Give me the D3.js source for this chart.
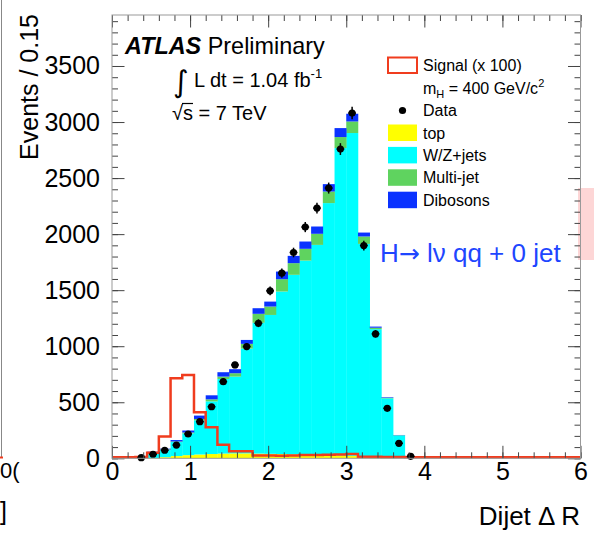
<!DOCTYPE html>
<html>
<head>
<meta charset="utf-8">
<script src="https://cdnjs.cloudflare.com/ajax/libs/d3/7.8.5/d3.min.js"></script>
<style>
  body { margin: 0; background: #fff; }
  svg { display: block; font-family: "Liberation Sans", Arial, sans-serif; }
</style>
</head>
<body>
<div id="chart"></div>
<script>
var width = 594;
var height = 534;

// lower edges of the filled bins (bin width 0.15)
var binLo = [0.30, 0.45, 0.60, 0.75, 0.90, 1.05, 1.20, 1.35, 1.50, 1.65, 1.80, 1.95,
             2.10, 2.25, 2.40, 2.55, 2.70, 2.85, 3.00, 3.15, 3.30, 3.45, 3.60, 3.75];
var binW = 0.15;

var dataVals = [6, 36, 72, 118, 217, 327, 460, 684, 833, 997, 1205, 1494,
                1652, 1836, 2063, 2232, 2411, 2759, 3080, 1898, 1110, 446, 134, 18];
var topVals  = [0, 3, 10, 20, 28, 34, 38, 42, 44, 44, 42, 40,
                38, 35, 33, 30, 28, 25, 22, 14, 8, 4, 2, 0];
var wzVals   = [4, 48, 65, 125, 194, 305, 470, 665, 685, 935, 1167, 1239,
                1450, 1602, 1731, 1874, 2249, 2743, 2880, 1899, 1144, 531, 202, 4];
var mjVals   = [0, 4, 5, 5, 8, 12, 18, 22, 30, 42, 80, 75,
                110, 104, 105, 99, 103, 98, 103, 66, 13, 5, 2, 0];
var dbVals   = [1, 4, 6, 13, 18, 30, 36, 39, 36, 35, 50, 44,
                68, 65, 65, 65, 66, 80, 69, 35, 10, 5, 2, 1];
var sigVals  = [3, 40, 185, 705, 735, 402, 268, 112, 55, 55, 15, 15,
                14, 16, 20, 20, 22, 26, 29, 5, 4, 3, 2, 1];

var xMajor = [0, 1, 2, 3, 4, 5, 6];
var yMajor = [0, 500, 1000, 1500, 2000, 2500, 3000, 3500];

var keys = ["top", "wz", "mj", "db"];
var colors = { top: "#ffff00", wz: "#00ffff", mj: "#5fd35f", db: "#0a32ff" };
var legendLabels = ["top", "W/Z+jets", "Multi-jet", "Dibosons"];

var svg = d3.select("#chart").append("svg")
  .attr("width", width)
  .attr("height", height);

svg.append("rect").attr("width", width).attr("height", height).attr("fill", "#fff");

// pink patch and neighbouring plot remnants at the edges
svg.append("rect").attr("x", 578).attr("y", 188).attr("width", 16).attr("height", 72).attr("fill", "#fdd6d6");
svg.append("line").attr("x1", 1.5).attr("x2", 1.5).attr("y1", 0).attr("y2", 458)
  .attr("stroke", "#888").attr("stroke-width", 1);
svg.append("line").attr("x1", 0).attr("x2", 3).attr("y1", 457.5).attr("y2", 457.5)
  .attr("stroke", "#f03c1e").attr("stroke-width", 2);
svg.append("text").attr("x", 0).attr("y", 478).attr("font-size", 22).text("0(");
svg.append("text").attr("x", 0).attr("y", 520).attr("font-size", 25).text("]");

var x = d3.scaleLinear().domain([0, 6]).range([112, 580.5]);
var y = d3.scaleLinear().domain([0, 3955]).range([458.3, 15]);

// stacked backgrounds
var rows = binLo.map(function (b, i) {
  return { lo: b, top: topVals[i], wz: wzVals[i], mj: mjVals[i], db: dbVals[i] };
});
var stacked = d3.stack().keys(keys)(rows);

svg.append("g").selectAll("g")
  .data(stacked)
  .enter()
  .append("g")
  .attr("fill", function (d) { return colors[d.key]; })
  .selectAll("rect")
  .data(function (d) { return d; })
  .enter()
  .append("rect")
  .attr("x", function (d) { return x(d.data.lo); })
  .attr("width", function (d) { return x(d.data.lo + binW) - x(d.data.lo) + 0.3; })
  .attr("y", function (d) { return y(d[1]); })
  .attr("height", function (d) { return y(d[0]) - y(d[1]); });

// signal x 100 as a step line
var sigPts = [[0, 0]];
binLo.forEach(function (b, i) { sigPts.push([b, sigVals[i]]); });
sigPts.push([binLo[binLo.length - 1] + binW, 0]);
sigPts.push([6, 0]);

svg.append("path")
  .datum(sigPts)
  .attr("fill", "none")
  .attr("stroke", "#f03c1e")
  .attr("stroke-width", 2.5)
  .attr("d", d3.line()
    .x(function (d) { return x(d[0]); })
    .y(function (d) { return y(d[1]) - 1; })
    .curve(d3.curveStepAfter));

// data points with sqrt(N) errors
var xErr = 0.05;
var pts = svg.append("g").selectAll("g")
  .data(binLo.map(function (b, i) { return { c: b + binW / 2, v: dataVals[i] }; }))
  .enter()
  .append("g");
pts.append("line")
  .attr("x1", function (d) { return x(d.c); })
  .attr("x2", function (d) { return x(d.c); })
  .attr("y1", function (d) { return y(d.v + Math.sqrt(d.v)); })
  .attr("y2", function (d) { return y(Math.max(0, d.v - Math.sqrt(d.v))); })
  .attr("stroke", "#000").attr("stroke-width", 1.5);
pts.append("line")
  .attr("x1", function (d) { return x(d.c - xErr); })
  .attr("x2", function (d) { return x(d.c + xErr); })
  .attr("y1", function (d) { return y(d.v); })
  .attr("y2", function (d) { return y(d.v); })
  .attr("stroke", "#000").attr("stroke-width", 1.5);
pts.append("circle")
  .attr("cx", function (d) { return x(d.c); })
  .attr("cy", function (d) { return y(d.v); })
  .attr("r", 3.6)
  .attr("fill", "#000");

// axes, ROOT style ticks inside the frame
function styleAxis(g) {
  g.select(".domain").remove();
  g.selectAll(".tick line").attr("stroke", "#444");
  g.selectAll("text").attr("font-size", 25).attr("fill", "#000")
    .attr("font-family", "Liberation Sans, Arial, sans-serif");
}
var xMinor = d3.range(0, 6.001, 0.2);
var yMinor = d3.range(0, 3955, 100);

svg.append("g").attr("transform", "translate(0,458.3)")
  .call(d3.axisBottom(x).tickValues(xMinor).tickSize(-6).tickFormat(""))
  .call(styleAxis);
svg.append("g").attr("transform", "translate(0,458.3)")
  .call(d3.axisBottom(x).tickValues(xMajor).tickSize(-12.5).tickPadding(4).tickFormat(d3.format("d")))
  .call(styleAxis);
svg.append("g").attr("transform", "translate(0,15)")
  .call(d3.axisTop(x).tickValues(xMinor).tickSize(-6).tickFormat(""))
  .call(styleAxis);
svg.append("g").attr("transform", "translate(0,15)")
  .call(d3.axisTop(x).tickValues(xMajor).tickSize(-12.5).tickFormat(""))
  .call(styleAxis);

svg.append("g").attr("transform", "translate(112,0)")
  .call(d3.axisLeft(y).tickValues(yMinor).tickSize(-6).tickFormat(""))
  .call(styleAxis);
svg.append("g").attr("transform", "translate(112,0)")
  .call(d3.axisLeft(y).tickValues(yMajor).tickSize(-12.5).tickPadding(12).tickFormat(d3.format("d")))
  .call(styleAxis);
svg.append("g").attr("transform", "translate(580.5,0)")
  .call(d3.axisRight(y).tickValues(yMinor).tickSize(-6).tickFormat(""))
  .call(styleAxis);
svg.append("g").attr("transform", "translate(580.5,0)")
  .call(d3.axisRight(y).tickValues(yMajor).tickSize(-12.5).tickFormat(""))
  .call(styleAxis);

svg.append("rect")
  .attr("x", 112).attr("y", 15)
  .attr("width", 580.5 - 112).attr("height", 458.3 - 15)
  .attr("fill", "none").attr("stroke", "#999").attr("stroke-width", 1);

// axis titles
svg.append("text")
  .attr("transform", "translate(38,14) rotate(-90)")
  .attr("text-anchor", "end")
  .attr("font-size", 25)
  .text("Events / 0.15");
svg.append("text")
  .attr("x", 580).attr("y", 525)
  .attr("text-anchor", "end")
  .attr("font-size", 26)
  .text("Dijet \u0394 R");

// ATLAS label
var atlas = svg.append("text").attr("x", 125).attr("y", 54).attr("font-size", 23.4);
atlas.append("tspan").attr("font-weight", "bold").attr("font-style", "italic").text("ATLAS");
atlas.append("tspan").text(" Preliminary");

svg.append("text").attr("x", 173).attr("y", 92).attr("font-size", 30).attr("font-family", "DejaVu Sans")
  .text("\u222B");
var lumi = svg.append("text").attr("x", 194).attr("y", 87).attr("font-size", 20);
lumi.append("tspan").text("L dt = 1.04 fb");
lumi.append("tspan").attr("font-size", 13).attr("dy", -9).text("-1");

var sq = svg.append("text").attr("x", 172).attr("y", 120).attr("font-size", 20);
sq.append("tspan").text("\u221A");
sq.append("tspan").text("s = 7 TeV");
svg.append("line").attr("x1", 182).attr("x2", 193).attr("y1", 103.5).attr("y2", 103.5)
  .attr("stroke", "#000").attr("stroke-width", 1.2);

// legend
var legX = 388, legTextX = 423;
svg.append("rect").attr("x", legX).attr("y", 57.5).attr("width", 29).attr("height", 15.5)
  .attr("fill", "#fff").attr("stroke", "#f03c1e").attr("stroke-width", 2);
svg.append("text").attr("x", legTextX).attr("y", 71).attr("font-size", 16).text("Signal (x 100)");
var mh = svg.append("text").attr("x", legTextX).attr("y", 94).attr("font-size", 16);
mh.append("tspan").text("m");
mh.append("tspan").attr("font-size", 11).attr("dy", 4).text("H");
mh.append("tspan").attr("dy", -4).text(" = 400 GeV/c");
mh.append("tspan").attr("font-size", 11).attr("dy", -7).text("2");

svg.append("circle").attr("cx", 402.5).attr("cy", 110.5).attr("r", 3.6).attr("fill", "#000");
svg.append("text").attr("x", legTextX).attr("y", 116).attr("font-size", 16).text("Data");

var legRows = svg.append("g").selectAll("g")
  .data(keys)
  .enter()
  .append("g")
  .attr("transform", function (d, i) { return "translate(0," + (124.5 + i * 22.4) + ")"; });
legRows.append("rect")
  .attr("x", legX).attr("y", 0).attr("width", 29).attr("height", 16.5)
  .attr("fill", function (d) { return colors[d]; });
legRows.append("text")
  .attr("x", legTextX).attr("y", 14)
  .attr("font-size", 16)
  .text(function (d, i) { return legendLabels[i]; });

var chan = svg.append("text")
  .attr("x", 380).attr("y", 262)
  .attr("font-size", 26)
  .attr("fill", "#1e46ff");
chan.append("tspan").text("H");
chan.append("tspan").attr("font-family", "DejaVu Sans").attr("font-size", 25).text("\u2192");
chan.append("tspan").text(" l\u03BD qq + 0 jet");
</script>
</body>
</html>
